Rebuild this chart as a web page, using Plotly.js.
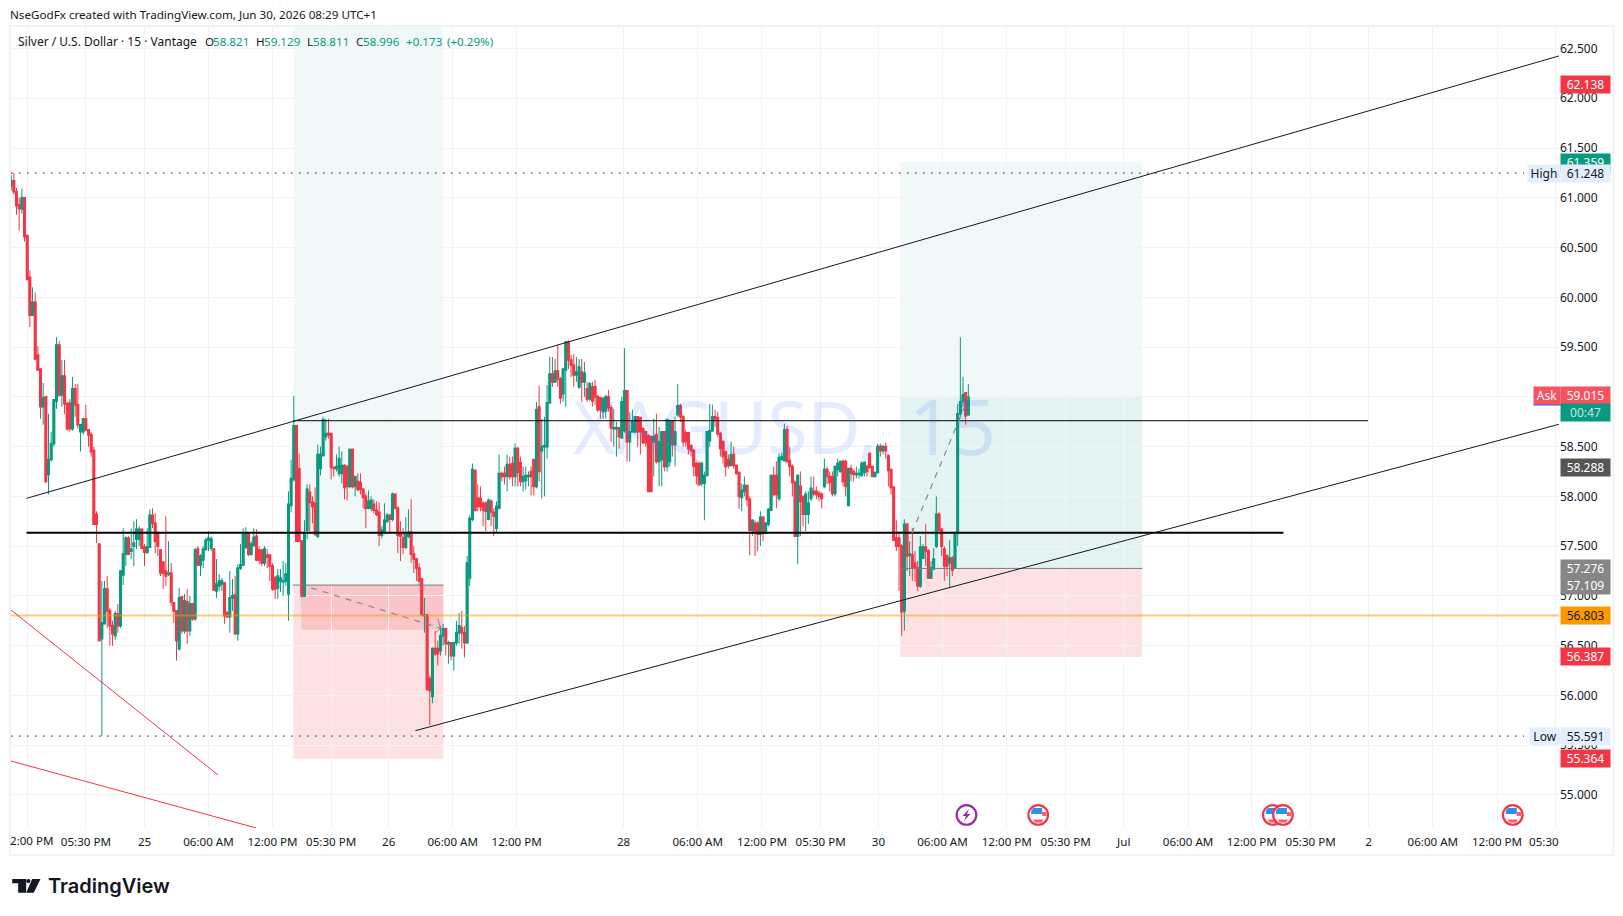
<!DOCTYPE html>
<html><head><meta charset="utf-8">
<script src="https://cdn.plot.ly/plotly-3.0.1.min.js"></script>
<style>html,body{margin:0;padding:0;background:#fff}#c{width:1623px;height:916px}</style>
</head><body><div id="c"></div>
<script>
// [open, high, low, close] per 15 minute bar
const barsA=[[61.12,61.23,61.07,61.17],[61.17,61.25,61.03,61.06],[61.06,61.10,60.83,60.92],[60.93,61.00,60.67,60.89],[60.89,61.09,60.84,61.00],[61.00,61.00,60.56,60.61],[60.62,60.62,60.18,60.18],[60.20,60.27,59.70,59.82],[59.82,60.10,59.82,59.95],[59.95,60.05,59.38,59.38],
[59.42,59.51,59.27,59.27],[59.28,59.28,58.78,58.90],[58.90,59.14,58.72,58.99],[59.00,59.00,58.13,58.15],[58.22,58.83,58.02,58.37],[58.37,58.65,58.35,58.53],[58.53,58.97,58.50,58.97],[58.96,59.60,58.88,59.52],[59.52,59.56,59.00,59.02],[59.02,59.37,58.90,59.21],
[59.21,59.37,58.83,58.93],[58.93,58.95,58.66,58.68],[58.94,58.98,58.65,58.68],[58.68,59.20,58.66,59.08],[59.08,59.13,58.80,58.92],[58.92,59.13,58.68,58.72],[58.65,58.73,58.45,58.72],[58.65,58.78,58.62,58.78],[58.78,58.92,58.66,58.67],[58.67,58.67,58.50,58.62],
[58.62,58.65,58.40,58.45],[58.46,58.50,57.72,57.72],[57.82,57.85,57.53,57.72],[57.52,57.52,56.55,56.55],[56.57,57.15,55.59,56.73],[56.72,57.15,56.72,57.07],[57.07,57.20,56.68,56.85],[56.85,56.88,56.50,56.70],[56.70,56.75,56.50,56.62],[56.60,56.85,56.56,56.82],
[56.82,56.92,56.63,56.70],[56.70,57.25,56.68,57.25],[57.21,57.68,57.11,57.42],[57.42,57.60,57.30,57.58],[57.58,57.60,57.42,57.42],[57.45,57.68,57.37,57.47],[57.50,57.75,57.30,57.53],[57.57,57.77,57.47,57.67],[57.57,57.70,57.50,57.67],[57.67,57.67,57.47,57.48]];
const barsB=[[57.49,57.52,57.30,57.44],[57.44,57.68,57.42,57.49],[57.49,57.87,57.49,57.81],[57.81,57.88,57.68,57.73],[57.73,57.83,57.43,57.55],[57.63,57.65,57.40,57.50],[57.46,57.47,57.20,57.23],[57.34,57.34,57.07,57.23],[57.25,57.80,57.10,57.20],[57.22,57.55,57.20,57.23],
[57.23,57.33,56.90,56.94],[56.93,56.93,56.73,56.85],[56.85,56.85,56.35,56.55],[56.47,57.08,56.45,56.98],[56.99,57.00,56.62,56.65],[56.65,57.02,56.62,56.95],[56.94,57.07,56.52,56.65],[56.65,57.00,56.60,56.92],[56.92,56.93,56.75,56.77],[56.77,57.48,56.75,57.46],
[57.47,57.50,57.30,57.31],[57.31,57.42,57.20,57.40],[57.36,57.50,57.28,57.47],[57.47,57.58,57.45,57.56],[57.56,57.65,57.45,57.58],[57.48,57.60,57.45,57.57],[57.47,57.48,57.06,57.06],[57.05,57.37,56.98,57.12],[57.10,57.22,57.05,57.15],[57.12,57.18,57.05,57.15],
[57.13,57.13,56.72,56.80],[56.83,56.85,56.78,56.79],[56.79,57.25,56.63,56.98],[56.98,57.17,56.85,57.00],[57.01,57.20,56.61,56.62],[56.62,57.32,56.55,57.28],[57.28,57.52,57.26,57.31],[57.31,57.68,57.30,57.62],[57.49,57.69,57.47,57.62],[57.62,57.63,57.40,57.42],
[57.42,57.55,57.40,57.52],[57.51,57.68,57.49,57.59],[57.60,57.67,57.35,57.36],[57.46,57.50,57.32,57.36],[57.46,57.47,57.30,57.33],[57.33,57.50,57.30,57.47],[57.41,57.47,57.28,57.39],[57.41,57.42,57.15,57.30],[57.30,57.33,57.05,57.07],[57.18,57.20,56.97,57.07],
[57.08,57.27,56.97,57.20],[57.15,57.27,57.04,57.18],[57.14,57.35,57.00,57.15],[57.15,57.33,57.10,57.22]];
const barsC=[[57.02,58.05,56.75,57.92],[57.91,58.37,57.84,58.18],[58.17,59.01,58.15,58.71],[58.71,58.71,57.55,57.55],[58.28,58.43,57.55,57.55],[57.55,57.55,56.98,57.00],[57.00,57.76,56.99,57.63],[57.66,58.12,57.57,58.07],[58.04,58.12,57.65,57.94],[57.94,58.00,57.73,57.90],
[57.93,58.09,57.60,57.62],[57.60,58.52,57.58,58.42],[58.28,58.50,58.21,58.42],[58.41,58.80,58.40,58.77],[58.60,58.78,58.56,58.63],[58.63,58.78,58.58,58.62],[58.63,58.63,58.17,58.29],[58.29,58.30,58.20,58.28],[58.28,58.42,58.25,58.30],[58.23,58.50,58.20,58.38],
[58.23,58.45,58.13,58.31],[58.31,58.32,57.97,58.09],[58.30,58.31,57.96,58.10],[58.10,58.48,58.08,58.47],[58.47,58.48,58.08,58.10],[58.10,58.20,58.00,58.20],[58.15,58.23,58.05,58.07],[58.14,58.23,58.02,58.07],[58.07,58.08,57.88,57.99],[58.00,58.03,57.68,57.88],
[57.88,58.06,57.87,57.95],[57.88,58.00,57.85,57.96],[57.92,57.97,57.83,57.86],[57.86,57.95,57.80,57.82],[57.84,57.94,57.50,57.61],[57.61,57.70,57.58,57.66],[57.64,57.93,57.62,57.76],[57.75,57.83,57.73,57.81],[57.81,57.82,57.63,57.77],[57.77,58.04,57.75,58.02],
[58.02,58.03,57.87,57.88],[57.88,57.90,57.43,57.61],[57.62,57.75,57.35,57.60],[57.58,57.68,57.42,57.49],[57.49,57.79,57.47,57.62],[57.60,57.87,57.58,57.64],[57.64,57.97,57.33,57.42],[57.42,57.50,57.23,57.37],[57.37,57.38,57.15,57.28],[57.28,57.33,57.10,57.15],
[57.17,57.18,56.80,56.81],[56.80,56.98,56.63,56.81],[56.81,56.81,56.05,56.06],[56.17,56.20,55.70,56.05],[55.99,56.48,55.92,56.47],[56.47,56.65,56.40,56.42],[56.47,56.55,56.30,56.42],[56.45,56.70,56.40,56.60],[56.60,56.72,56.50,56.67],[56.67,56.68,56.40,56.52],
[56.52,56.55,56.32,56.53],[56.53,56.53,56.35,56.40],[56.40,56.53,56.25,56.53],[56.53,56.75,56.50,56.63],[56.63,56.83,56.52,56.70],[56.68,56.85,56.47,56.63],[56.63,56.70,56.38,56.53],[56.53,57.40,56.52,57.33],[57.18,57.81,57.10,57.78],[57.77,58.33,57.75,58.27],
[58.26,58.27,57.85,57.86],[57.98,58.12,57.85,57.90],[57.98,58.10,57.85,57.90],[57.93,57.95,57.70,57.86],[57.93,57.95,57.65,57.85],[57.77,57.98,57.76,57.96],[57.95,57.97,57.70,57.84],[57.84,57.88,57.60,57.80],[57.68,57.95,57.63,57.90],[57.88,58.42,57.87,58.23],
[58.23,58.25,58.15,58.20],[58.23,58.30,58.12,58.20],[58.20,58.42,58.05,58.32],[58.32,58.40,58.17,58.20],[58.33,58.40,58.10,58.20],[58.20,58.53,58.10,58.48],[58.48,58.50,58.10,58.24]];
const barsD=[[58.34,58.40,58.10,58.15],[58.15,58.30,58.05,58.20],[58.16,58.30,58.07,58.21],[58.20,58.25,58.10,58.21],[58.25,58.30,58.01,58.20],[58.37,58.37,58.01,58.10],[58.10,58.95,58.08,58.87],[58.90,59.11,58.15,58.25],[58.46,58.78,57.98,58.50],[58.50,58.80,58.00,58.51],
[58.50,59.12,58.38,58.94],[58.94,59.40,58.93,59.23],[59.23,59.40,59.10,59.15],[59.15,59.38,59.14,59.26],[59.26,59.52,59.10,59.18],[59.18,59.20,58.93,58.99],[59.03,59.28,58.95,59.28],[59.27,59.56,58.90,59.55],[59.55,59.57,59.28,59.37],[59.37,59.42,59.20,59.32],
[59.32,59.43,59.10,59.22],[59.22,59.40,59.15,59.25],[59.10,59.38,59.08,59.30],[59.25,59.38,58.95,59.15],[59.15,59.35,59.00,59.24],[59.08,59.15,58.95,58.98],[58.98,59.15,58.96,59.13],[59.10,59.15,58.90,58.96],[59.10,59.17,58.92,59.00],[59.00,59.02,58.85,58.87],
[58.99,59.00,58.78,58.87],[58.85,59.00,58.78,58.98],[58.86,59.02,58.78,59.00],[59.00,59.07,58.85,58.89],[58.89,58.92,58.55,58.69],[58.68,58.88,58.50,58.69],[58.68,58.75,58.40,58.69],[58.69,58.70,58.48,58.60],[58.59,59.00,58.58,58.95],[58.66,59.49,58.64,59.06],
[59.06,59.06,58.35,58.55],[58.55,58.85,58.35,58.65],[58.65,58.87,58.64,58.75],[58.65,58.80,58.63,58.80],[58.80,58.80,58.50,58.65],[58.79,58.80,58.42,58.65],[58.68,58.70,58.53,58.54],[58.65,58.66,58.50,58.54],[58.61,58.62,58.05,58.05],[58.60,58.60,58.05,58.05],
[58.55,58.78,58.20,58.60],[58.62,58.83,58.33,58.35],[58.35,58.70,58.10,58.55],[58.37,58.65,58.10,58.65],[58.65,58.65,58.25,58.30],[58.30,58.78,58.25,58.77],[58.35,58.77,58.30,58.75],[58.76,58.76,58.40,58.52],[58.52,58.80,58.30,58.65],[58.82,59.13,58.80,58.91],
[58.91,58.93,58.75,58.80],[58.80,58.82,58.50,58.55],[58.64,58.67,58.50,58.55],[58.64,58.65,58.42,58.48],[58.51,58.52,58.40,58.46],[58.46,58.48,58.20,58.30],[58.33,58.35,58.12,58.21],[58.33,58.35,58.10,58.12],[58.13,58.35,58.10,58.33],[58.13,58.25,57.76,58.21],
[58.21,58.65,58.20,58.65],[58.56,58.93,58.50,58.66],[58.66,58.92,58.65,58.80],[58.80,58.87,58.70,58.78],[58.79,58.85,58.60,58.63]];
const barsE=[[58.63,58.65,58.40,58.48],[58.55,58.56,58.33,58.40],[58.45,58.45,58.20,58.30],[58.37,58.42,58.28,58.31],[58.31,58.55,58.30,58.42],[58.42,58.50,58.28,58.31],[58.31,58.32,58.22,58.23],[58.24,58.25,57.87,58.00],[57.99,58.13,57.85,58.06],[58.05,58.20,58.00,58.11],
[58.11,58.12,57.90,57.97],[57.97,58.00,57.41,57.66],[57.66,57.77,57.60,57.76],[57.73,57.76,57.40,57.63],[57.73,57.75,57.45,57.62],[57.62,57.85,57.50,57.79],[57.79,57.80,57.55,57.63],[57.63,57.74,57.62,57.73],[57.72,57.88,57.70,57.87],[57.86,58.22,57.85,58.21],
[58.21,58.30,58.00,58.02],[58.21,58.35,57.88,58.02],[57.98,58.43,57.95,58.39],[58.37,58.44,58.36,58.40],[58.36,58.73,58.35,58.67],[58.67,58.71,58.34,58.35],[58.36,58.50,58.20,58.30],[58.30,58.32,58.00,58.14],[58.14,58.16,57.60,57.60],[57.60,58.22,57.32,58.21],
[58.10,58.25,57.60,57.95],[58.00,58.00,57.70,57.82],[57.82,58.05,57.65,58.02],[57.82,58.05,57.72,57.93],[57.98,58.20,57.95,58.08],[58.05,58.20,58.00,58.03],[58.05,58.10,57.97,58.02],[58.03,58.06,57.95,58.00],[58.02,58.04,57.88,57.98],[58.10,58.38,58.08,58.27],
[58.27,58.30,58.12,58.20],[58.20,58.25,58.05,58.14],[58.20,58.25,58.00,58.03],[58.03,58.30,58.00,58.30],[58.27,58.38,58.20,58.33],[58.25,58.36,58.24,58.35],[58.35,58.37,58.10,58.15],[58.35,58.37,58.00,58.10],[57.91,58.28,57.90,58.28],[58.28,58.32,58.15,58.23],
[58.25,58.27,58.15,58.22],[58.22,58.30,58.18,58.23],[58.22,58.28,58.18,58.23],[58.21,58.35,58.20,58.33],[58.24,58.35,58.20,58.34],[58.30,58.32,58.20,58.25],[58.43,58.44,58.28,58.29],[58.30,58.30,58.20,58.20],[58.20,58.25,58.20,58.24],[58.24,58.53,58.23,58.50],
[58.50,58.53,58.40,58.46],[58.46,58.52,58.42,58.50],[58.50,58.54,58.38,58.46],[58.41,58.42,58.10,58.26],[58.27,58.28,58.02,58.09],[58.09,58.10,57.56,57.56],[57.58,57.76,57.45,57.50],[57.58,57.65,57.05,57.50],[57.50,57.52,56.60,56.84],[56.85,57.77,56.65,57.72],
[57.72,57.73,57.25,57.40],[57.41,57.55,57.20,57.42],[57.41,57.68,57.15,57.28],[57.33,57.45,57.14,57.28],[57.28,57.35,57.05,57.10],[57.10,57.60,57.08,57.49],[57.38,57.52,57.37,57.49],[57.49,57.72,57.30,57.45],[57.45,57.47,57.17,57.18],[57.18,57.35,57.17,57.28],
[57.27,57.48,57.27,57.37],[57.50,58.00,57.48,57.82],[57.82,57.84,57.65,57.66],[57.67,57.68,57.40,57.50],[57.47,57.50,57.15,57.30],[57.40,57.42,57.20,57.30],[57.33,57.56,57.08,57.38],[57.38,57.40,57.20,57.26],[57.28,57.64,57.27,57.63],[57.63,58.93,57.50,58.83],
[58.83,59.60,58.80,58.95],[58.96,59.20,58.90,59.02],[59.04,59.04,58.72,58.81],[58.821,59.129,58.811,58.996]];

const rows=[...barsA,...barsB,...barsC,...barsD,...barsE];
const barIndex=rows.map((r,i)=>i);
const opens=rows.map(r=>r[0]), highs=rows.map(r=>r[1]), lows=rows.map(r=>r[2]), closes=rows.map(r=>r[3]);

const priceTicks=[55,55.5,56,56.5,57,57.5,58,58.5,59,59.5,60,60.5,61,61.5,62,62.5];
const timeTickBars=[6,28,50,74,98,120,141.6,165.6,189.6,229.7,257.5,281.6,303.6,325.3,349.3,373.4,395.5,417.3,441.4,465.3,487.4,509.1,533.2,557.3,579.4];
const timeTickText=[' ','05:30 PM','25','06:00 AM','12:00 PM','05:30 PM','26','06:00 AM','12:00 PM','28','06:00 AM','12:00 PM','05:30 PM','30','06:00 AM','12:00 PM','05:30 PM','Jul','06:00 AM','12:00 PM','05:30 PM','2','06:00 AM','12:00 PM','05:30\u00a0\u00a0\u00a0\u00a0\u00a0\u00a0\u00a0\u00a0'];

const highPrice=61.248, lowPrice=55.591, askPrice=59.015, orangePrice=56.803;
const thinLevel=58.76, thickLevel=57.635;
const eventBars=[385.2,473.2,477.0,563.2], boltBar=358.3, eventPrice=54.799;

const W=1623,H=916,L=10.5,R=1559,T=27,B=828;
const px=x=>(x-L)/(R-L), py=y=>1-(y-T)/(B-T);
const font='"Noto Sans", sans-serif', ink='#131722';
const GREEN='#089981', RED='#f23645';

const line=(x0,y0,x1,y1,color,width,dash)=>({type:'line',xref:'x',yref:'y',x0,y0,x1,y1,line:{color,width,dash:dash||'solid'},layer:'above'});
const zone=(x0,x1,y0,y1,fill)=>({type:'rect',xref:'x',yref:'y',x0,x1,y0,y1,fillcolor:fill,line:{width:0},layer:'below'});

const shapes=[
 zone(105.85,162.1,57.109,62.716,'rgba(8,153,129,0.06)'),
 zone(105.85,162.1,55.364,57.109,'rgba(242,54,69,0.15)'),
 zone(108.85,162.1,56.66,57.109,'rgba(242,54,69,0.17)'),
 zone(333.45,424.2,57.276,61.359,'rgba(8,153,129,0.06)'),
 zone(333.45,424.2,57.276,59.0,'rgba(8,153,129,0.055)'),
 zone(333.45,424.2,56.387,57.276,'rgba(242,54,69,0.15)'),
 line(105.6,57.109,162.1,57.109,'#787b86',1),
 line(333.45,57.276,424.2,57.276,'#787b86',1),
 line(-0.1,highPrice,567.4,highPrice,'#787b86',1.6,'1.6px,6.4px'),
 line(-0.1,lowPrice,567.4,lowPrice,'#787b86',1.6,'1.6px,6.4px'),
 line(-0.1,orangePrice,580.5,orangePrice,'rgba(255,152,0,0.5)',2),
 line(105.85,thinLevel,508.9,thinLevel,'#000',1),
 line(5.74,thickLevel,477.2,thickLevel,'#000',2),
 line(5.74,57.98,580.5,62.425,ink,1),
 line(151.6,55.646,580.5,58.724,ink,1),
 line(-0.08,56.858,77.6,55.2,RED,1),
 line(-0.08,55.341,91.9,54.668,RED,1),
 line(112.5,57.08,161,56.675,'#868993',1.2,'6px,6px'),
 line(158.8,56.62,161,56.675,'#868993',1),
 line(160,56.77,161,56.675,'#868993',1),
 line(337.8,57.63,359,58.99,'#868993',1.2,'6px,6px'),
];
// frame round the chart
shapes.push({type:'rect',xref:'paper',yref:'paper',x0:px(9.5),x1:px(1613.5),y0:py(855),y1:py(26),line:{color:'#f0f3f6',width:2},layer:'below'});
// blue underline of the Ask tag
shapes.push({type:'rect',xref:'paper',yref:'paper',x0:px(1533.5),x1:px(1609),y0:py(405.5),y1:py(404),fillcolor:'#2962ff',line:{width:0},layer:'above'});

// calendar markers
const pix=(bar,path,fill)=>({type:'path',xref:'x',yref:'y',xsizemode:'pixel',ysizemode:'pixel',xanchor:bar,yanchor:eventPrice,path,fillcolor:fill,line:{width:0},layer:'above'});
const disc=(bar,stroke)=>({type:'circle',xref:'x',yref:'y',xsizemode:'pixel',ysizemode:'pixel',xanchor:bar,yanchor:eventPrice,x0:-9.8,x1:9.8,y0:-9.8,y1:9.8,fillcolor:'#fff',line:{color:stroke,width:2.2},layer:'above'});
eventBars.forEach(b=>{
 shapes.push(disc(b,RED));
 shapes.push(pix(b,'M-7,1 L-7,4 L-5,7 L4,7 L4,1 Z','#2f8fef'));
 shapes.push(pix(b,'M4,3 L8,3 L8.5,-1 L4,-1 Z',RED+'cc'));
 shapes.push(pix(b,'M-5,-4.5 L5,-4.5 L3.5,-7.5 L-3.5,-7.5 Z',RED+'cc'));
});
shapes.push(disc(boltBar,'#9c27b0'));
shapes.push(pix(boltBar,'M2.5,6 L-4,-1 L-0.5,-1 L-2.5,-6 L4,1 L0.5,1 Z','#9c27b0'));

// TradingView logo
const logo=(pts)=>({type:'path',xref:'paper',yref:'paper',path:'M'+pts.map(p=>px(p[0])+','+py(p[1])).join(' L')+' Z',fillcolor:'#131722',line:{width:0}});
shapes.push(logo([[11.7,879],[25.7,879],[25.7,892.7],[17.7,892.7],[17.7,883.3],[11.7,883.3]]));
shapes.push(logo([[31.7,879],[40,879],[33.3,892.7],[25.7,892.7]]));
shapes.push({type:'circle',xref:'paper',yref:'paper',x0:px(25.7),x1:px(30),y0:py(883.2),y1:py(878.9),fillcolor:'#131722',line:{width:0}});

const SMALL=11.6;
const note=(text,x,y,opts)=>Object.assign({text,xref:'paper',yref:'paper',x:px(x),y:py(y),xanchor:'left',yanchor:'middle',showarrow:false,font:{family:font,size:SMALL,color:ink},align:'left'},opts||{});
const gnote=(text,x)=>note(text,x,41,{font:{family:font,size:SMALL,color:GREEN}});
const tag=(text,x,width,price,bg,color)=>({text,xref:'paper',yref:'y',x:px(x),y:price,xanchor:'left',yanchor:'middle',showarrow:false,width,height:15,borderpad:1,bgcolor:bg,font:{family:font,size:12,color},align:'center',valign:'middle'});

const TX=1560.5;
const annotations=[
 note('NseGodFx created with TradingView.com, Jun 30, 2026 08:29 UTC+1',7.5,15,{font:{family:font,size:11.65,color:ink}}),
 note('Silver / U.S. Dollar · 15 · Vantage',15.5,41,{font:{family:font,size:12,color:ink}}),
 note('O',203,41),gnote('58.821',211),
 note('H',254,41),gnote('59.129',262),
 note('L',305,41),gnote('58.811',311),
 note('C',354,41),gnote('58.996',361),
 gnote('+0.173',404),gnote('(+0.29%)',445),
 note('2:00 PM',7.5,840.5),
 {text:'XAGUSD,',xref:'paper',yref:'paper',x:px(571),y:py(425),xanchor:'left',yanchor:'middle',showarrow:false,font:{family:font,size:73,color:'rgba(41,98,255,0.12)'}},
 {text:'15',xref:'paper',yref:'paper',x:px(998),y:py(425),xanchor:'right',yanchor:'middle',showarrow:false,font:{family:font,size:76,color:'rgba(41,98,255,0.12)'}},
 tag('62.138',TX,47,62.138,RED,'#fff'),
 tag('61.359',TX,47,61.359,GREEN,'#fff'),
 tag('61.248',TX,47,highPrice,'#e3effd',ink),
 tag('High',1527,30,highPrice,'#e3effd',ink),
 tag('59.015',TX,47,askPrice,'#f7525f','#fff'),
 tag('Ask',1533,24,askPrice,'#f7525f','#fff'),
 tag('00:47',TX,47,58.845,GREEN,'#c4e8df'),
 tag('58.288',TX,47,58.288,'#555555','#fff'),
 tag('57.276',TX,47,57.276,'#868686','#fff'),
 tag('57.109',TX,47,57.109,'#868686','#fff'),
 tag('56.803',TX,47,orangePrice,'#ff9800',ink),
 tag('56.387',TX,47,56.387,RED,'#fff'),
 tag('55.591',TX,47,lowPrice,'#e3effd',ink),
 tag('Low',1529,28,lowPrice,'#e3effd',ink),
 tag('55.364',TX,47,55.364,RED,'#fff'),
 note('TradingView',46,885.5,{font:{family:'Inter, "Noto Sans", sans-serif',size:20,color:ink,weight:600}}),
];

const wicks={type:'candlestick',x:barIndex,open:opens,high:highs,low:lows,close:closes,
 increasing:{line:{color:GREEN,width:1},fillcolor:GREEN},
 decreasing:{line:{color:RED,width:1},fillcolor:RED},
 whiskerwidth:0,hoverinfo:'skip',showlegend:false};
// same bars again, body only with a heavier outline: the picture's bodies are about 3px wide
const bodies={type:'candlestick',x:barIndex,open:opens,close:closes,
 high:rows.map(r=>Math.max(r[0],r[3])),low:rows.map(r=>Math.min(r[0],r[3])),
 increasing:{line:{color:GREEN,width:1.6},fillcolor:GREEN},
 decreasing:{line:{color:RED,width:1.6},fillcolor:RED},
 whiskerwidth:0,hoverinfo:'skip',showlegend:false};

const layout={width:W,height:H,margin:{l:L,r:W-R,t:T,b:H-B,pad:0},paper_bgcolor:'#fff',plot_bgcolor:'#fff',
 showlegend:false,boxmode:'overlay',boxgap:0.25,font:{family:font,size:12,color:ink},
 xaxis:{range:[(L-10.7)/2.667,(R-10.7)/2.667],tickmode:'array',tickvals:timeTickBars,ticktext:timeTickText,tickangle:0,
   showgrid:true,gridcolor:'#f2f3f5',gridwidth:1,zeroline:false,showline:false,ticks:'',rangeslider:{visible:false},
   tickfont:{family:font,size:SMALL,color:ink},ticklabelstandoff:5,fixedrange:true},
 yaxis:{side:'right',range:[54.668,62.716],tickmode:'array',tickvals:priceTicks,ticktext:priceTicks.map(v=>v.toFixed(3)),
   showgrid:true,gridcolor:'#f2f3f5',gridwidth:1,zeroline:false,showline:false,ticks:'',
   tickfont:{family:font,size:12,color:ink},ticklabelstandoff:8.5,fixedrange:true},
 shapes,annotations};
Plotly.newPlot('c',[wicks,bodies],layout,{staticPlot:true,displayModeBar:false});
</script></body></html>
